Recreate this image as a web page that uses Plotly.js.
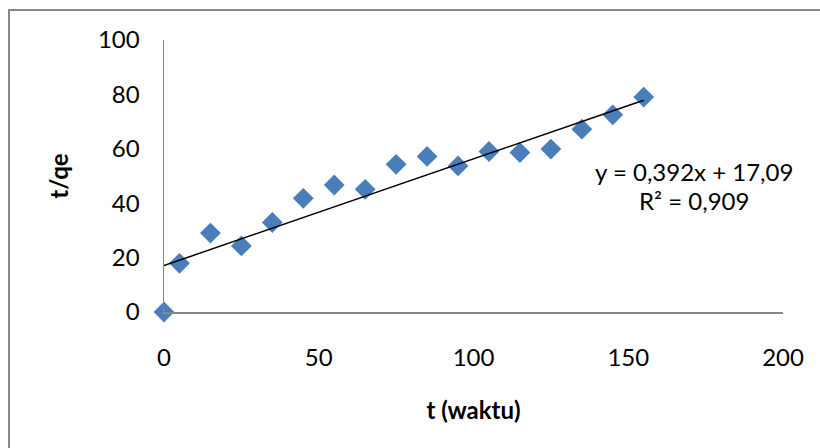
<!DOCTYPE html>
<html>
<head>
<meta charset="utf-8">
<script src="https://cdn.plot.ly/plotly-3.0.1.min.js"></script>
<style>
html,body{margin:0;padding:0;background:#fff;overflow:hidden;}
#chart{width:820px;height:448px;position:absolute;left:0;top:0;}
#frame{position:absolute;left:8px;top:9px;width:900px;height:600px;border:2px solid #888;pointer-events:none;box-sizing:border-box;}
</style>
</head>
<body>
<div id="chart"></div>
<div id="frame"></div>
<script>
// data
const tValues = [0, 5, 15, 25, 35, 45, 55, 65, 75, 85, 95, 105, 115, 125, 135, 145, 155];
const tqeValues = [0, 17.9, 29.0, 24.3, 32.9, 41.8, 46.7, 45.1, 54.3, 57.2, 53.7, 59.0, 58.6, 59.9, 67.2, 72.5, 79.0];
const trendSlope = 0.392;
const trendIntercept = 17.09;
const equationText = "y = 0,392x + 17,09";
const r2Text = "R² = 0,909";
const xTickVals = [0, 50, 100, 150, 200];
const yTickVals = [0, 20, 40, 60, 80, 100];

const xMin = Math.min(...tValues), xMax = Math.max(...tValues);
const trendX = [xMin, xMax];
const trendY = trendX.map(x => trendSlope * x + trendIntercept);

const FONT = "Lato, sans-serif";
const FS = 24;

const traces = [
  {
    x: tValues, y: tqeValues, type: 'scatter', mode: 'markers',
    marker: {symbol: 'diamond', size: 16, color: '#4A7EBB', line: {width: 0}},
    cliponaxis: false, hoverinfo: 'skip'
  },
  {
    x: trendX, y: trendY, type: 'scatter', mode: 'lines',
    line: {color: '#000', width: 1.5}, hoverinfo: 'skip'
  }
];

const layout = {
  width: 820, height: 448,
  margin: {l: 164, r: 37, t: 40, b: 136},
  paper_bgcolor: '#fff', plot_bgcolor: '#fff',
  showlegend: false,
  font: {family: FONT, size: FS, color: '#000'},
  xaxis: {
    range: [0, 200], tickvals: xTickVals, ticktext: xTickVals.map(String),
    showgrid: false, zeroline: false, showline: true, linecolor: '#868686', linewidth: 1.5,
    ticks: '', ticklabelstandoff: 24,
    tickfont: {family: FONT, size: FS},
    title: {text: '<b>t (waktu)</b>', font: {family: FONT, size: FS}, standoff: 32}
  },
  yaxis: {
    range: [0, 100], tickvals: yTickVals, ticktext: yTickVals.map(String),
    showgrid: false, zeroline: false, showline: true, linecolor: '#868686', linewidth: 1.5,
    ticks: '', ticklabelstandoff: 18,
    tickfont: {family: FONT, size: FS},
    title: {text: '<b>t/qe</b>', font: {family: FONT, size: FS}, standoff: 22}
  },
  annotations: [
    {xref: 'paper', yref: 'paper', x: 0.856, y: (312 - 171) / 272, text: equationText,
     showarrow: false, font: {family: FONT, size: FS}, xanchor: 'center', yanchor: 'middle'},
    {xref: 'paper', yref: 'paper', x: 0.856, y: (312 - 200) / 272, text: r2Text,
     showarrow: false, font: {family: FONT, size: FS}, xanchor: 'center', yanchor: 'middle'}
  ]
};

Plotly.newPlot('chart', traces, layout, {displayModeBar: false, staticPlot: true});
</script>
</body>
</html>
